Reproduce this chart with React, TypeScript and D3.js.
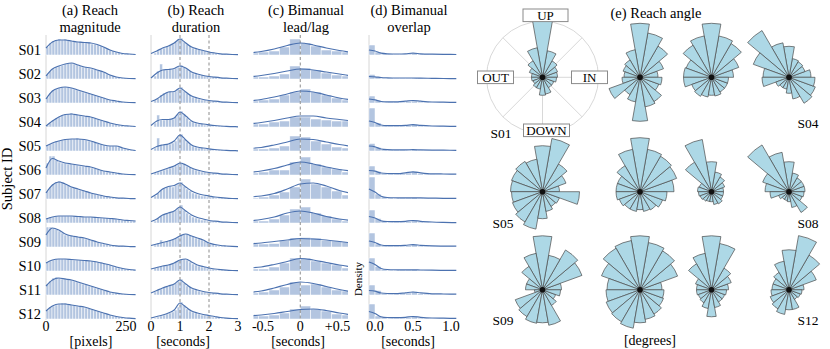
import React from 'react';
import * as d3 from 'd3';

const subjects = ['S01', 'S02', 'S03', 'S04', 'S05', 'S06', 'S07', 'S08', 'S09', 'S10', 'S11', 'S12'];

// (a) reach magnitude [pixels]
const magKdeX = [0, 20, 40, 60, 80, 100, 120, 140, 160, 180, 200, 220, 240, 260, 280];
const magKde = [
  [7, 13, 15, 15, 14, 13, 12.5, 12, 10.5, 8, 5, 3, 1.5, 1, 0.5],
  [3, 10, 13, 15, 16, 14, 12, 11, 9, 7, 4, 2, 1, 0.5, 0.3],
  [4, 12, 15, 16, 15, 13, 11, 9, 7, 5, 3, 2, 1, 0.5, 0.3],
  [1, 6, 10, 12.5, 13, 12, 11, 10, 8, 6, 4, 2.5, 1.5, 1, 0.5],
  [5, 8, 10, 11.5, 12, 12, 11.5, 10, 8, 6, 5, 5, 3, 1.5, 0.5],
  [7, 16.5, 14, 12, 11, 10, 9, 8, 6, 4, 3, 2, 1, 0.5, 0.3],
  [6, 14, 17, 15, 12, 10, 8, 6, 4.5, 3, 2, 1.2, 0.8, 0.5, 0.3],
  [4, 6, 7, 7, 7, 6.5, 6, 6, 5.5, 5, 4.5, 4, 3, 2.5, 2],
  [12, 19, 17, 13, 11, 10, 9, 7, 5, 3.5, 2, 1.2, 0.8, 0.5, 0.3],
  [8, 11, 12, 12, 11.5, 11, 10.5, 10, 9, 7.5, 6, 4, 2.5, 1.5, 0.8],
  [9, 15, 17, 16, 15, 13, 11, 9, 7, 5, 3, 1.8, 1, 0.5, 0.3],
  [8, 13, 15, 15, 14, 13, 12, 10, 8, 6, 4, 2.5, 1.5, 0.8, 0.4],
];
const magHist = [
  [8, 12, 14, 15, 16, 15, 16, 15, 14, 14, 13, 14, 13, 12, 13, 11, 11, 10, 9, 8, 6, 5, 4, 3, 3, 2, 1, 1, 1, 1],
  [5, 8, 10, 12, 13, 14, 15, 16, 16, 15, 14, 13, 12, 12, 11, 10, 10, 9, 8, 7, 5, 4, 3, 2, 2, 1, 1, 1, 0, 0],
  [6, 10, 13, 14, 15, 16, 16, 16, 15, 14, 13, 12, 11, 10, 10, 9, 8, 7, 6, 5, 4, 3, 3, 2, 2, 1, 1, 1, 0, 0],
  [2, 4, 7, 9, 10, 12, 13, 13, 14, 13, 12, 12, 11, 11, 10, 10, 9, 8, 7, 6, 5, 4, 3, 3, 2, 2, 1, 1, 1, 1],
  [6, 7, 8, 10, 10, 11, 12, 12, 12, 12, 13, 12, 12, 11, 10, 10, 9, 8, 7, 6, 5, 5, 5, 5, 4, 3, 2, 2, 1, 1],
  [12, 19, 19, 15, 13, 12, 12, 11, 11, 11, 10, 9, 9, 9, 8, 7, 7, 6, 5, 4, 3, 3, 3, 2, 2, 1, 1, 1, 0, 0],
  [8, 12, 15, 17, 18, 17, 15, 14, 12, 11, 10, 9, 9, 8, 7, 6, 5, 4, 4, 3, 3, 2, 2, 1, 1, 1, 1, 1, 0, 0],
  [5, 6, 6, 7, 7, 7, 7, 7, 7, 7, 7, 6, 6, 6, 6, 6, 6, 6, 5, 5, 5, 5, 4, 4, 4, 3, 3, 3, 2, 2],
  [20, 20, 19, 18, 16, 14, 12, 12, 12, 11, 10, 10, 9, 8, 8, 7, 6, 5, 4, 3, 3, 2, 2, 1, 1, 1, 1, 1, 0, 0],
  [9, 10, 11, 12, 12, 12, 12, 12, 12, 11, 11, 11, 11, 11, 10, 10, 10, 9, 9, 8, 7, 6, 5, 4, 3, 3, 2, 2, 1, 1],
  [11, 14, 17, 18, 17, 16, 17, 16, 15, 14, 13, 12, 11, 11, 9, 9, 7, 7, 6, 5, 4, 3, 2, 2, 1, 1, 1, 1, 0, 0],
  [9, 12, 13, 14, 15, 16, 16, 15, 14, 14, 13, 13, 12, 11, 11, 10, 9, 8, 7, 6, 5, 4, 3, 3, 2, 2, 1, 1, 1, 0],
];

// (b) reach duration [seconds]
const durKdeX = [0, 0.2, 0.4, 0.6, 0.8, 1.0, 1.2, 1.4, 1.6, 1.8, 2.0, 2.2, 2.4, 2.6, 2.8, 3.0];
const durKde = [
  [1.5, 4, 7, 9, 12, 16, 12, 8, 6, 4.5, 3, 2, 1.2, 0.8, 0.5, 0.3],
  [1, 6, 9, 9.5, 10.5, 13, 11, 7, 5, 3.5, 2.5, 1.8, 1.2, 0.8, 0.5, 0.3],
  [1.5, 4, 8, 11, 11.5, 15, 11, 7, 5, 3.5, 2.5, 1.8, 1.2, 0.8, 0.5, 0.3],
  [1.5, 6, 7.5, 7.5, 9, 15, 11, 6, 4, 3, 2.2, 1.5, 1, 0.6, 0.4, 0.2],
  [1.5, 4.5, 6, 7, 10, 16, 11, 6, 4, 3, 2.2, 1.5, 1, 0.6, 0.4, 0.2],
  [1, 3, 5, 7, 9, 12, 10, 7, 5, 3.5, 2.5, 1.8, 1.2, 0.8, 0.5, 0.3],
  [1.5, 5, 10, 12.5, 13.5, 16, 12, 8, 5.5, 4, 3, 2, 1.3, 0.8, 0.5, 0.3],
  [1.5, 4, 8, 10, 12, 16, 12, 8, 5.5, 4, 2.5, 1.8, 1.2, 0.8, 0.5, 0.3],
  [1.5, 3, 4.5, 6, 8, 11, 13, 11, 9, 7, 4, 2.5, 1.5, 1, 0.6, 0.3],
  [2, 3.5, 5, 6, 8, 11, 12, 9, 6, 4.5, 3, 2, 1.3, 0.8, 0.5, 0.3],
  [2, 4.5, 7, 9, 11, 15, 11, 7, 5, 3.5, 2.5, 1.8, 1.2, 0.8, 0.5, 0.3],
  [1, 2.5, 4, 6, 9, 16, 12, 8, 6, 4.5, 3.5, 2.5, 1.5, 0.9, 0.5, 0.3],
];
const durHist = [
  [0, 2, 4, 6, 7, 9, 10, 11, 13, 16, 17, 13, 11, 9, 7, 6, 6, 5, 4, 3, 3, 2, 2, 1, 1, 1, 1, 0, 0, 0],
  [0, 3, 8, 15, 9, 9, 10, 10, 11, 12, 14, 12, 10, 8, 6, 5, 4, 4, 3, 3, 2, 2, 2, 1, 1, 1, 1, 0, 0, 0],
  [0, 3, 5, 8, 10, 11, 12, 11, 12, 14, 16, 12, 10, 8, 6, 5, 4, 3, 3, 2, 2, 2, 1, 1, 1, 1, 0, 0, 0, 0],
  [0, 4, 12, 7, 7, 8, 8, 8, 10, 13, 16, 12, 9, 6, 5, 4, 3, 3, 2, 2, 2, 1, 1, 1, 1, 0, 0, 0, 0, 0],
  [0, 3, 13, 6, 6, 7, 7, 8, 10, 14, 17, 12, 9, 7, 5, 4, 3, 3, 2, 2, 2, 1, 1, 1, 1, 0, 0, 0, 0, 0],
  [0, 2, 3, 4, 5, 6, 7, 8, 9, 11, 12, 11, 9, 8, 6, 5, 4, 3, 3, 2, 2, 2, 1, 1, 1, 1, 0, 0, 0, 0],
  [0, 3, 6, 9, 11, 12, 13, 12, 14, 15, 17, 13, 10, 8, 6, 5, 4, 3, 3, 2, 2, 2, 1, 1, 1, 1, 0, 0, 0, 0],
  [0, 2, 5, 7, 9, 10, 11, 12, 13, 15, 18, 13, 10, 8, 6, 5, 4, 3, 3, 2, 2, 1, 1, 1, 1, 0, 0, 0, 0, 0],
  [0, 2, 4, 7, 5, 6, 7, 8, 9, 10, 12, 13, 13, 12, 11, 9, 8, 7, 6, 5, 3, 3, 2, 1, 1, 1, 1, 0, 0, 0],
  [0, 3, 4, 5, 5, 6, 7, 8, 9, 10, 12, 12, 11, 9, 7, 6, 5, 4, 4, 3, 2, 2, 1, 1, 1, 1, 0, 0, 0, 0],
  [0, 3, 5, 6, 8, 9, 10, 11, 12, 14, 16, 12, 9, 8, 6, 5, 4, 3, 3, 2, 2, 2, 1, 1, 1, 1, 0, 0, 0, 0],
  [0, 1, 2, 3, 4, 5, 6, 7, 9, 12, 17, 14, 10, 8, 7, 6, 5, 4, 4, 3, 3, 2, 2, 2, 1, 1, 1, 0, 0, 0],
];

// (c) bimanual lead/lag [seconds]
const lagKdeX = [-0.7, -0.525, -0.35, -0.175, 0, 0.175, 0.35, 0.525, 0.7];
const lagKde = [
  [2, 3.5, 6, 9.5, 12, 10, 7, 4.5, 2.5],
  [2, 3.5, 5.5, 8, 10, 9, 7, 5, 3],
  [2, 3.5, 6, 9, 12, 11, 8, 5, 3],
  [3, 4.5, 6.5, 9, 11, 11, 9, 7.5, 6],
  [2.5, 3.5, 6, 9, 12, 11.5, 9, 6.5, 4.5],
  [2.5, 4, 6.5, 10, 13, 11, 8, 5.5, 4],
  [2, 3, 5.5, 10, 15, 16, 13, 8.5, 5.5],
  [2, 3.5, 6, 10, 12, 10, 6.5, 4, 2.5],
  [3, 4, 5.5, 7, 8.5, 8, 7, 5.5, 4],
  [3, 4, 6.5, 9.5, 12.5, 11, 8.5, 6, 4],
  [2.5, 4, 7, 10.5, 13, 11.5, 8.5, 5.5, 3],
  [3, 4, 5.5, 7.5, 9.5, 10, 8.5, 6, 4],
];
const lagHist = [
  [2, 3, 4, 8, 16, 12, 9, 5, 4, 3],
  [2, 2, 3, 5, 13, 11, 9, 6, 4, 3],
  [2, 3, 4, 8, 11, 14, 11, 8, 5, 3],
  [3, 3, 5, 6, 10, 10, 8, 7, 6, 6],
  [2, 2, 3, 5, 15, 14, 10, 7, 4, 3],
  [2, 3, 5, 5, 13, 18, 11, 8, 6, 3],
  [1, 2, 4, 7, 12, 20, 15, 12, 8, 4],
  [2, 2, 4, 8, 14, 16, 10, 7, 4, 2],
  [3, 3, 3.5, 6.5, 9, 9.5, 9, 6.5, 6, 5],
  [2, 2, 4, 8, 13, 13, 10, 8, 6, 3],
  [2, 3, 5, 8, 13, 10, 11, 8, 5, 4],
  [3, 3, 4, 6, 10, 13, 10, 8, 5, 4],
];

// (d) bimanual overlap [seconds]
const ovlKdeX = [-0.08, 0, 0.08, 0.16, 0.3, 0.4, 0.5, 0.6, 0.75, 0.9, 1.07];
const ovlKde = [
  [5, 4, 1.8, 1.2, 1.0, 1.2, 1.8, 1.2, 0.8, 0.6, 0.5],
  [2.5, 2.2, 1.5, 1.2, 1, 1, 1, 0.9, 0.7, 0.5, 0.3],
  [4, 3.2, 1.5, 1.1, 1.2, 1.8, 2.5, 1.8, 1, 0.8, 0.6],
  [6, 4.5, 2, 1.4, 1.3, 1.6, 2.3, 1.6, 1, 0.8, 0.6],
  [5, 4.2, 2, 1.4, 1.2, 1.2, 1.3, 1.1, 0.9, 0.8, 0.7],
  [4.5, 3.8, 2, 1.5, 1.4, 2.2, 3.2, 2.2, 1.2, 1, 0.9],
  [10, 7, 2.8, 1.5, 1.2, 1.1, 1.2, 1.1, 0.9, 0.7, 0.6],
  [6.5, 5, 2.2, 1.5, 1.3, 1.7, 2.5, 1.7, 1, 0.6, 0.3],
  [6, 4.5, 2, 1.4, 1.3, 1.7, 2.4, 1.7, 1.1, 0.9, 0.8],
  [9, 6.5, 2.5, 1.5, 1.2, 1.1, 1.2, 1, 0.8, 0.7, 0.6],
  [4.5, 3.8, 2, 1.5, 1.4, 2.2, 3, 2.1, 1.2, 1, 0.9],
  [7.5, 5.5, 2.2, 1.5, 1.3, 1.7, 2.5, 1.7, 1, 0.8, 0.6],
];
const ovlHist = [
  [10, 3, 1, 1, 0.8, 0.8, 1, 1.5, 1, 0.8, 0.6, 0.6, 0.5, 0.5],
  [4.5, 2, 1, 1, 0.8, 0.8, 0.8, 1, 0.8, 0.6, 0.5, 0.4, 0.4, 0.3],
  [7, 2.5, 1, 1, 1, 1, 1.5, 2, 1, 0.8, 0.6, 0.5, 0.5, 0.5],
  [19, 4, 1.5, 1, 1, 1, 1.5, 2.5, 1, 0.8, 0.6, 0.6, 0.5, 0.5],
  [7.5, 3.5, 1.5, 1, 1, 1, 1, 1.2, 0.8, 0.7, 0.6, 0.5, 0.5, 0.5],
  [9, 3.5, 1.5, 1.2, 1, 1.2, 2, 3.5, 1.5, 1, 0.8, 0.6, 0.6, 0.6],
  [22, 5, 2, 1.2, 1, 1, 1, 1.3, 0.8, 0.7, 0.6, 0.5, 0.5, 0.5],
  [13, 4.5, 1.5, 1, 1, 1, 1.5, 2.5, 1, 0.7, 0.5, 0.4, 0.3, 0.3],
  [14, 3, 1.2, 1, 1, 1, 1.5, 2.5, 1, 0.8, 0.7, 0.6, 0.6, 0.6],
  [13, 4.5, 1.5, 1, 1, 1, 1, 1.3, 0.8, 0.7, 0.6, 0.5, 0.5, 0.5],
  [10, 4.5, 1.5, 1, 1, 1.2, 2, 3.5, 1.3, 1, 0.8, 0.7, 0.7, 0.7],
  [15, 3, 1.3, 1, 1, 1, 1.5, 2.5, 1, 0.8, 0.6, 0.5, 0.5, 0.5],
];

// (e) reach angle: 18 bins of 20 degrees, counter-clockwise from IN (right)
const angleCounts = [
  [15, 16, 19, 27, 58, 30, 19, 14, 11, 11, 10, 12, 12, 18, 17, 12, 12, 14],
  [18, 25, 36, 45, 54, 28, 20, 18, 16, 18, 33, 20, 25, 44, 30, 28, 20, 22],
  [22, 29, 39, 42, 54, 42, 37, 27, 28, 28, 21, 22, 20, 18, 19, 17, 17, 17],
  [22, 17, 18, 19, 31, 35, 54, 38, 26, 27, 14, 12, 12, 16, 22, 30, 28, 26],
  [17, 25, 32, 54, 46, 33, 35, 33, 32, 31, 32, 35, 38, 27, 20, 17, 18, 37],
  [34, 39, 41, 43, 54, 43, 30, 24, 24, 24, 22, 20, 20, 18, 20, 21, 24, 27],
  [12, 14, 17, 20, 30, 53, 34, 13, 14, 13, 12, 11, 10, 10, 13, 14, 12, 12],
  [16, 16, 16, 19, 30, 40, 54, 28, 24, 19, 11, 9, 9, 10, 16, 24, 14, 15],
  [19, 42, 46, 35, 54, 37, 27, 17, 17, 8, 29, 31, 34, 33, 36, 18, 14, 18],
  [22, 40, 45, 48, 54, 50, 48, 41, 33, 34, 36, 37, 39, 33, 30, 28, 25, 24],
  [17, 21, 25, 47, 54, 37, 30, 17, 15, 15, 14, 15, 19, 27, 18, 14, 14, 15],
  [15, 29, 40, 55, 40, 29, 20, 17, 17, 18, 20, 22, 25, 20, 20, 11, 12, 13],
];
const directionLabels = ['IN', 'UP', 'OUT', 'DOWN'];

const FONT = '"Liberation Serif", "Times New Roman", Times, serif';
const BLUE = '#4c72b0';
const BAR = '#b3c5e0';
const rowBase = (i: number) => 55 + i * 24;
const bottom = rowBase(11) + 1;
const dens = d3.scaleLinear().domain([0, 20]).range([0, 20]);

const panels = [
  {
    key: 'a', x: d3.scaleLinear().domain([0, 280]).range([46, 135.6]),
    kdeX: magKdeX, kde: magKde, hist: magHist, bin0: 0, binW: 280 / 30,
    ticks: [[0, '0'], [250, '250']], label: '[pixels]', labelX: 91,
    title: ['(a) Reach', 'magnitude'], titleX: 90, axisX: 46, dashes: [] as number[],
  },
  {
    key: 'b', x: d3.scaleLinear().domain([0, 3]).range([151, 238]),
    kdeX: durKdeX, kde: durKde, hist: durHist, bin0: 0, binW: 0.1,
    ticks: [[0, '0'], [1, '1'], [2, '2'], [3, '3']], label: '[seconds]', labelX: 183,
    title: ['(b) Reach', 'duration'], titleX: 196, axisX: 151, dashes: [1, 2],
  },
  {
    key: 'c', x: d3.scaleLinear().domain([-0.5, 0.5]).range([263, 337.5]),
    kdeX: lagKdeX, kde: lagKde, hist: lagHist, bin0: -0.7, binW: 0.14,
    ticks: [[-0.5, '-0.5'], [0, '0'], [0.5, '+0.5']], label: '[seconds]', labelX: 298,
    title: ['(c) Bimanual', 'lead/lag'], titleX: 306, axisX: null, dashes: [0], clip: true,
  },
  {
    key: 'd', x: d3.scaleLinear().domain([0, 1]).range([375, 451]),
    kdeX: ovlKdeX, kde: ovlKde, hist: ovlHist, bin0: -0.08, binW: 0.08,
    ticks: [[0, '0.0'], [0.5, '0.5'], [1, '1.0']], label: '[seconds]', labelX: 408,
    title: ['(d) Bimanual', 'overlap'], titleX: 409, axisX: 369, dashes: [],
  },
];

function HistPanel({ p }: { p: any }) {
  const bw = p.x(p.bin0 + p.binW) - p.x(p.bin0);
  return (
    <g>
      {p.axisX != null && (
        <line x1={p.axisX} x2={p.axisX} y1={35} y2={bottom} stroke="#d6d6d6" strokeWidth={1} />
      )}
      <g clipPath={p.clip ? 'url(#clipC)' : undefined}>
        {subjects.map((s, i) => {
          const base = rowBase(i);
          return (
            <g key={s}>
              {p.hist[i].map((v: number, j: number) =>
                v > 0 ? (
                  <rect key={j} x={p.x(p.bin0 + j * p.binW)} y={base - dens(v)} width={bw}
                    height={dens(v)} fill={BAR} stroke="#fff" strokeWidth={0.5} />
                ) : null
              )}
            </g>
          );
        })}
        {p.dashes.map((d: number) => (
          <line key={d} x1={p.x(d)} x2={p.x(d)} y1={35} y2={bottom} stroke="#8c8c8c"
            strokeWidth={1} strokeDasharray="3,2.5" />
        ))}
        {subjects.map((s, i) => {
          const base = rowBase(i);
          const line = d3.line<number>()
            .x((_, k) => p.x(p.kdeX[k]))
            .y(v => base - dens(v))
            .curve(d3.curveMonotoneX);
          return <path key={s} d={line(p.kde[i]) || ''} fill="none" stroke={BLUE} strokeWidth={1.2} />;
        })}
      </g>
      {p.ticks.map(([v, t]: [number, string]) => (
        <text key={t} x={p.x(v)} y={331} textAnchor="middle" fontSize={14}>{t}</text>
      ))}
      <text x={p.labelX} y={346} textAnchor="middle" fontSize={14}>{p.label}</text>
      <text x={p.titleX} y={15} textAnchor="middle" fontSize={14.5}>{p.title[0]}</text>
      <text x={p.titleX} y={31.5} textAnchor="middle" fontSize={14.5}>{p.title[1]}</text>
    </g>
  );
}

const roseCols = [542.5, 640, 711.5, 789];
const roseRows = [77.3, 191.7, 289.8];
const roseR = d3.scaleLinear().domain([0, 55]).range([0, 55]);
const arc = d3.arc<any>();
const rad = (deg: number) => (deg * Math.PI) / 180;

function Rose({ counts, cx, cy }: { counts: number[]; cx: number; cy: number }) {
  return (
    <g transform={`translate(${cx},${cy})`}>
      {counts.map((v, k) => (
        <path key={k}
          d={arc({ innerRadius: 0, outerRadius: roseR(v), startAngle: rad(90 - 20 * (k + 1)), endAngle: rad(90 - 20 * k) }) || ''}
          fill="#add8e6" stroke="#4a4a4a" strokeWidth={0.7} />
      ))}
      <circle r={2.8} fill="#111" />
    </g>
  );
}

// gray guide circle with spokes, drawn under the S01 rose
function RoseGuide({ cx, cy }: { cx: number; cy: number }) {
  const r = 56;
  return (
    <g>
      <circle cx={cx} cy={cy} r={r} fill="none" stroke="#d4d4d4" strokeWidth={0.9} />
      {d3.range(8).map(k => (
        <line key={k} x1={cx} y1={cy} x2={cx + r * Math.cos(rad(45 * k))} y2={cy - r * Math.sin(rad(45 * k))}
          stroke="#d4d4d4" strokeWidth={0.9} />
      ))}
    </g>
  );
}

// direction boxes, drawn on top of the S01 rose
function RoseLegendBoxes({ cx, cy }: { cx: number; cy: number }) {
  const boxes = [
    { t: directionLabels[0], x: cx + 47, y: cy, w: 36 },
    { t: directionLabels[1], x: cx + 3, y: cy - 62, w: 45 },
    { t: directionLabels[2], x: cx - 47, y: cy, w: 36 },
    { t: directionLabels[3], x: cx + 4, y: cy + 53, w: 46 },
  ];
  return (
    <g>
      {boxes.map(b => (
        <g key={b.t}>
          <rect x={b.x - b.w / 2} y={b.y - 6.3} width={b.w} height={12.6} fill="#fff" stroke="#8a8a8a" strokeWidth={1} />
          <text x={b.x} y={b.y + 4.6} textAnchor="middle" fontSize={13}>{b.t}</text>
        </g>
      ))}
    </g>
  );
}

export default function App() {
  const roseLabels: Record<number, [number, number]> = {
    0: [501, 137.5], 3: [808, 128], 4: [503, 228], 7: [808, 228], 8: [503, 325], 11: [808, 325],
  };
  return (
    <svg width={830} height={349} style={{ position: 'absolute', left: 0, top: 0, background: '#fff' }}
      fontFamily={FONT} fill="#000">
      <defs>
        <clipPath id="clipC">
          <rect x={253.5} y={0} width={94.5} height={349} />
        </clipPath>
      </defs>
      {subjects.map((s, i) => (
        <text key={s} x={41} y={rowBase(i)} textAnchor="end" fontSize={14.5}>{s}</text>
      ))}
      <text transform="translate(12,179) rotate(-90)" textAnchor="middle" fontSize={14.5}>Subject ID</text>
      <text transform="translate(362,279) rotate(-90)" textAnchor="middle" fontSize={11}>Density</text>
      {panels.map(p => <HistPanel key={p.key} p={p} />)}

      <RoseGuide cx={roseCols[0]} cy={roseRows[0]} />
      {angleCounts.map((c, i) => (
        <Rose key={i} counts={c} cx={roseCols[i % 4]} cy={roseRows[Math.floor(i / 4)]} />
      ))}
      <RoseLegendBoxes cx={roseCols[0]} cy={roseRows[0]} />
      {Object.entries(roseLabels).map(([i, [x, y]]) => (
        <text key={i} x={x} y={y} textAnchor="middle" fontSize={13.5}>{subjects[+i]}</text>
      ))}
      <text x={656} y={17.5} textAnchor="middle" fontSize={14.5}>(e) Reach angle</text>
      <text x={650} y={345} textAnchor="middle" fontSize={14}>[degrees]</text>
    </svg>
  );
}
